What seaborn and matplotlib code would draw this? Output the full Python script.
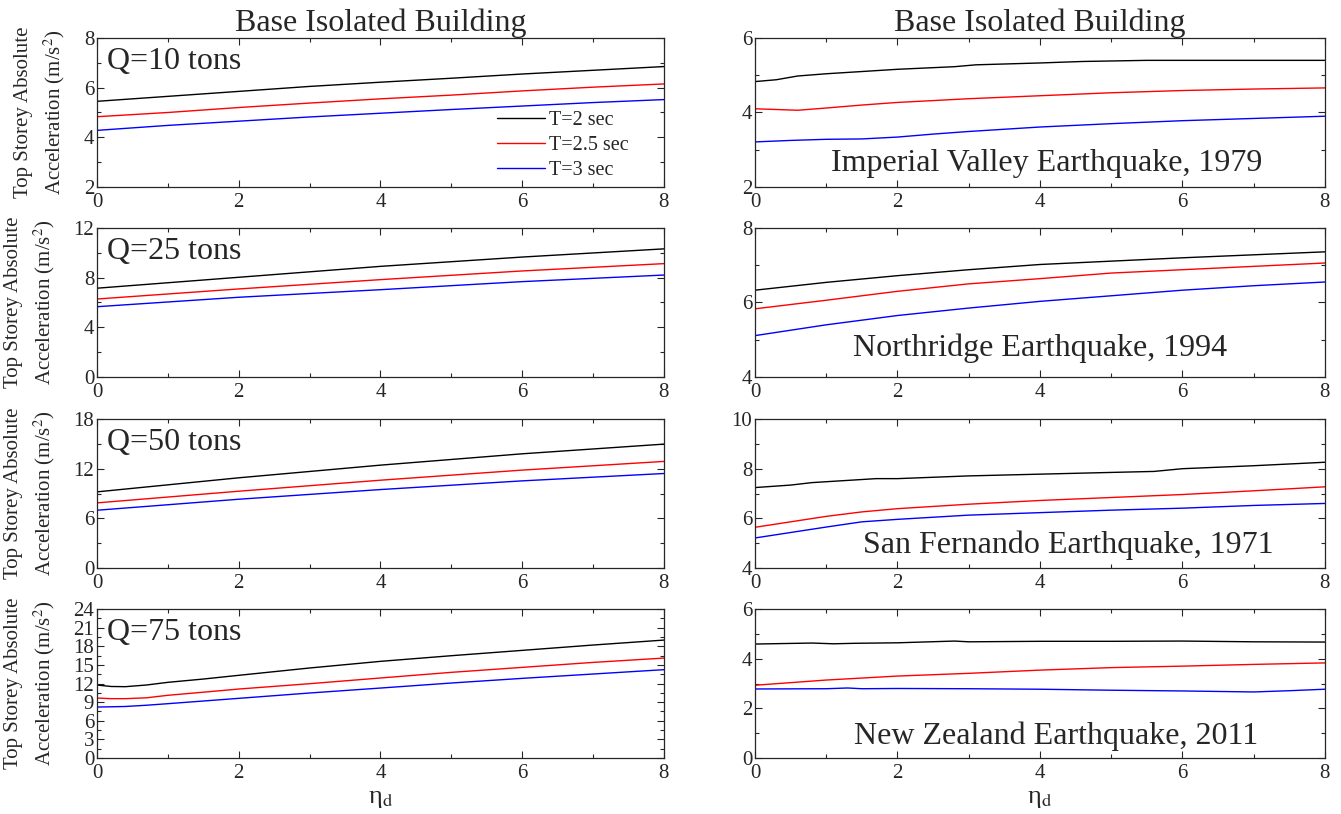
import matplotlib
matplotlib.use('Agg')
import matplotlib.pyplot as plt
import seaborn as sns
from matplotlib.ticker import MultipleLocator

sns.set_style('ticks')
plt.rcParams['font.family'] = ['Liberation Serif', 'DejaVu Serif']
plt.rcParams['mathtext.fontset'] = 'stix'

# Left column: loaded weight Q
x_q10 = [0, 1, 2, 3, 4, 5, 6, 7, 8]
q10_t2 = [5.45, 5.65, 5.85, 6.05, 6.22, 6.38, 6.55, 6.70, 6.85]
q10_t25 = [4.83, 5.00, 5.20, 5.38, 5.55, 5.70, 5.87, 6.02, 6.15]
q10_t3 = [4.28, 4.48, 4.65, 4.82, 4.97, 5.12, 5.26, 5.40, 5.52]

x_q25 = [0, 2, 4, 6, 8]
q25_t2 = [7.15, 8.03, 8.91, 9.66, 10.32]
q25_t25 = [6.28, 7.09, 7.84, 8.54, 9.13]
q25_t3 = [5.66, 6.42, 7.03, 7.68, 8.21]

x_q50 = [0, 2, 4, 6, 8]
q50_t2 = [9.2, 10.9, 12.43, 13.8, 14.97]
q50_t25 = [7.87, 9.28, 10.61, 11.83, 12.88]
q50_t3 = [6.98, 8.31, 9.48, 10.53, 11.42]

x_q75 = [0, 0.2, 0.4, 0.7, 1, 1.5, 2, 3, 4, 5, 6, 7, 8]
q75_t2 = [11.76, 11.52, 11.49, 11.76, 12.19, 12.72, 13.32, 14.5, 15.57, 16.48, 17.34, 18.2, 19.0]
q75_t25 = [9.66, 9.56, 9.56, 9.7, 10.1, 10.6, 11.11, 11.97, 12.89, 13.8, 14.6, 15.4, 16.1]
q75_t3 = [8.21, 8.25, 8.3, 8.5, 8.75, 9.18, 9.61, 10.47, 11.27, 12.08, 12.83, 13.53, 14.23]

# Right column: earthquakes
x_iv_t2 = [0, 0.3, 0.6, 1, 1.5, 2, 2.8, 3.1, 4, 4.6, 5.5, 6, 7, 8]
iv_t2 = [4.83, 4.88, 4.98, 5.04, 5.1, 5.16, 5.23, 5.28, 5.33, 5.37, 5.4, 5.4, 5.4, 5.4]
x_iv_t25 = [0, 0.6, 1, 1.5, 2, 3, 4, 5, 6, 7, 8]
iv_t25 = [4.1, 4.06, 4.12, 4.2, 4.27, 4.37, 4.45, 4.53, 4.59, 4.63, 4.66]
x_iv_t3 = [0, 0.5, 1, 1.5, 2, 2.5, 3, 4, 5, 6, 7, 8]
iv_t3 = [3.21, 3.25, 3.28, 3.29, 3.34, 3.42, 3.49, 3.61, 3.7, 3.78, 3.84, 3.9]

x_nr = [0, 1, 2, 3, 4, 5, 6, 7, 8]
nr_t2 = [6.33, 6.54, 6.72, 6.88, 7.02, 7.11, 7.2, 7.28, 7.36]
nr_t25 = [5.83, 6.06, 6.3, 6.5, 6.64, 6.79, 6.88, 6.97, 7.06]
nr_t3 = [5.11, 5.4, 5.65, 5.85, 6.03, 6.18, 6.33, 6.45, 6.55]

x_sf_t2 = [0, 0.5, 0.8, 1.7, 2, 3, 4, 5, 5.6, 6, 7, 8]
sf_t2 = [7.24, 7.34, 7.44, 7.6, 7.6, 7.71, 7.78, 7.85, 7.89, 8.0, 8.12, 8.26]
x_sf = [0, 0.5, 1, 1.5, 2, 3, 4, 5, 6, 7, 8]
sf_t25 = [5.64, 5.86, 6.08, 6.26, 6.39, 6.57, 6.72, 6.84, 6.96, 7.11, 7.27]
sf_t3 = [5.21, 5.43, 5.65, 5.86, 5.96, 6.13, 6.23, 6.33, 6.41, 6.52, 6.6]

x_nz_t2 = [0, 0.8, 1.1, 1.4, 2, 2.8, 3, 4, 5, 6, 7, 8]
nz_t2 = [4.59, 4.63, 4.6, 4.62, 4.64, 4.71, 4.68, 4.7, 4.7, 4.71, 4.68, 4.67]
x_nz_t25 = [0, 1, 2, 3, 4, 5, 6, 7, 8]
nz_t25 = [2.93, 3.14, 3.3, 3.41, 3.54, 3.64, 3.7, 3.77, 3.83]
x_nz_t3 = [0, 1, 1.3, 1.5, 2, 3, 4, 5, 6, 7, 7.5, 8]
nz_t3 = [2.78, 2.79, 2.82, 2.79, 2.8, 2.79, 2.77, 2.73, 2.7, 2.66, 2.71, 2.77]

labels = ['T=2 sec', 'T=2.5 sec', 'T=3 sec']
colors = ['black', 'red', 'blue']

left_panels = [
    ('Q=10 tons', [(x_q10, q10_t2), (x_q10, q10_t25), (x_q10, q10_t3)], (2, 8), 2),
    ('Q=25 tons', [(x_q25, q25_t2), (x_q25, q25_t25), (x_q25, q25_t3)], (0, 12), 4),
    ('Q=50 tons', [(x_q50, q50_t2), (x_q50, q50_t25), (x_q50, q50_t3)], (0, 18), 6),
    ('Q=75 tons', [(x_q75, q75_t2), (x_q75, q75_t25), (x_q75, q75_t3)], (0, 24), 3),
]
right_panels = [
    ('Imperial Valley Earthquake, 1979', [(x_iv_t2, iv_t2), (x_iv_t25, iv_t25), (x_iv_t3, iv_t3)], (2, 6), 2, (0.512, 0.16)),
    ('Northridge Earthquake, 1994', [(x_nr, nr_t2), (x_nr, nr_t25), (x_nr, nr_t3)], (4, 8), 2, (0.5, 0.19)),
    ('San Fernando Earthquake, 1971', [(x_sf_t2, sf_t2), (x_sf, sf_t25), (x_sf, sf_t3)], (4, 10), 2, (0.549, 0.15)),
    ('New Zealand Earthquake, 2011', [(x_nz_t2, nz_t2), (x_nz_t25, nz_t25), (x_nz_t3, nz_t3)], (0, 6), 2, (0.528, 0.148)),
]

fig = plt.figure(figsize=(13.41, 8.14), dpi=100)
bottoms = [0.7703, 0.5369, 0.3022, 0.0688]
h = 0.183


def style_axis(ax, ylim, ystep):
    ax.set_xlim(0, 8)
    ax.set_ylim(*ylim)
    ax.xaxis.set_major_locator(MultipleLocator(2))
    ax.xaxis.set_minor_locator(MultipleLocator(1))
    ax.yaxis.set_major_locator(MultipleLocator(ystep))
    ax.yaxis.set_minor_locator(MultipleLocator(ystep / 2))
    ax.tick_params(which='both', direction='in', top=True, right=True,
                   labelsize=15, width=0.8)
    ax.tick_params(axis='y', pad=2)
    ax.tick_params(axis='x', pad=4)
    ax.tick_params(which='major', length=5)
    ax.tick_params(which='minor', length=3)
    for s in ax.spines.values():
        s.set_linewidth(0.9)
    ax.set_xlabel('')
    ax.set_ylabel('')


for i, (name, series, ylim, ystep) in enumerate(left_panels):
    ax = fig.add_axes([0.0723, bottoms[i], 0.4228, h])
    for (xs, ys), c, lab in zip(series, colors, labels):
        sns.lineplot(x=xs, y=ys, color=c, linewidth=1.0, ax=ax,
                     label=lab if i == 0 else None, legend=False)
    style_axis(ax, ylim, ystep)
    ax.text(0.018, 0.84, name, transform=ax.transAxes, fontsize=23, va='center')
    ax.set_ylabel('Top Storey Absolute\nAcceleration (m/s$^2$)', fontsize=15,
                  linespacing=1.45, labelpad=12)
    if i == 0:
        ax.set_title('Base Isolated Building', fontsize=23, pad=3)
        ax.legend(loc='upper left', bbox_to_anchor=(0.705, 0.51), frameon=False,
                  fontsize=14.5, handlelength=2.4, handletextpad=0.2,
                  labelspacing=0.3, borderaxespad=0, borderpad=0)
    if i == 3:
        ax.set_xlabel('η$_{\\mathrm{d}}$', fontsize=19, labelpad=4)

for i, (name, series, ylim, ystep, pos) in enumerate(right_panels):
    ax = fig.add_axes([0.563, bottoms[i], 0.425, h])
    for (xs, ys), c in zip(series, colors):
        sns.lineplot(x=xs, y=ys, color=c, linewidth=1.0, ax=ax, legend=False)
    style_axis(ax, ylim, ystep)
    ax.text(pos[0], pos[1], name, transform=ax.transAxes, fontsize=23,
            ha='center', va='center')
    if i == 0:
        ax.set_title('Base Isolated Building', fontsize=23, pad=3)
    if i == 3:
        ax.set_xlabel('η$_{\\mathrm{d}}$', fontsize=19, labelpad=4)

fig.savefig('out.png', dpi=100)
